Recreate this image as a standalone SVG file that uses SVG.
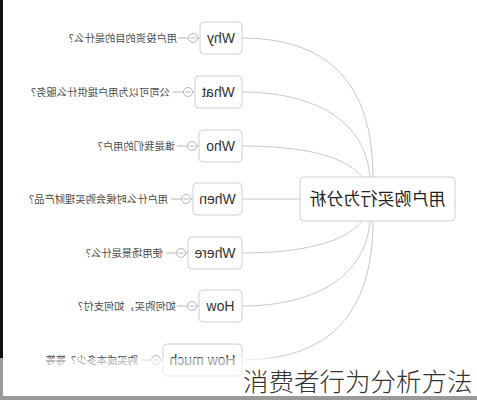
<svg xmlns="http://www.w3.org/2000/svg" width="477" height="400" viewBox="0 0 477 400">
<style>
.box{fill:#fff;stroke:#cfcfcf;stroke-width:1}
.conn{fill:none;stroke:#c9c9c9;stroke-width:1}
.lead{stroke:#b5b5b5;stroke-width:1}
.btn{fill:#fff;stroke:#b5b5b5;stroke-width:1}
.nt{font-family:"Liberation Sans",Arial,sans-serif;font-size:14px;fill:#333;text-anchor:middle}
.lb{font-family:"Noto Sans CJK SC","Noto Sans",sans-serif;font-size:10.3px;fill:#4a4a4a}
.ct{font-family:"Noto Sans CJK SC","Noto Sans",sans-serif;font-size:17px;fill:#222;text-anchor:middle}
</style>
<rect width="477" height="400" fill="#fff"/>
<g id="connectors">
<path class="conn" d="M242,38 Q373,38 373,177"/>
<path class="conn" d="M242,92 C305,92 365,115 370,177"/>
<path class="conn" d="M242,146 C300,146 345,155 362,177"/>
<path class="conn" d="M242,199 L300,199"/>
<path class="conn" d="M242,253 C300,253 345,243 362,221"/>
<path class="conn" d="M242,306 C305,306 365,283 370,221"/>
<path class="conn" d="M242,360 Q373,360 373,221"/>
</g>
<g id="center">
<rect class="box" x="300" y="177" width="155" height="44" rx="4"/>
<text class="ct" transform="scale(-1,1)" x="-377.5" y="205">用户购买行为分析</text>
</g>
<g id="why">
<line class="lead" x1="178" y1="38" x2="200" y2="38"/>
<circle class="btn" cx="193" cy="38" r="4.5"/><line class="lead" x1="190.5" y1="38" x2="195.5" y2="38"/>
<rect class="box" x="200" y="22" width="42" height="32" rx="4"/>
<text class="nt" transform="scale(-1,1)" x="-221" y="43">Why</text>
<text class="lb" transform="scale(-1,1)" x="-177" y="41.5">用户投资的目的是什么？</text>
</g>
<g id="what">
<line class="lead" x1="173" y1="92" x2="195" y2="92"/>
<circle class="btn" cx="188" cy="92" r="4.5"/><line class="lead" x1="185.5" y1="92" x2="190.5" y2="92"/>
<rect class="box" x="195" y="76" width="47" height="32" rx="4"/>
<text class="nt" transform="scale(-1,1)" x="-218.5" y="97">What</text>
<text class="lb" transform="scale(-1,1)" x="-170" y="95.5">公司可以为用户提供什么服务？</text>
</g>
<g id="who">
<line class="lead" x1="177" y1="146" x2="199" y2="146"/>
<circle class="btn" cx="192" cy="146" r="4.5"/><line class="lead" x1="189.5" y1="146" x2="194.5" y2="146"/>
<rect class="box" x="199" y="130" width="43" height="32" rx="4"/>
<text class="nt" transform="scale(-1,1)" x="-220.5" y="151">Who</text>
<text class="lb" transform="scale(-1,1)" x="-175" y="149.5">谁是我们的用户？</text>
</g>
<g id="when">
<line class="lead" x1="171" y1="199" x2="193" y2="199"/>
<circle class="btn" cx="186" cy="199" r="4.5"/><line class="lead" x1="183.5" y1="199" x2="188.5" y2="199"/>
<rect class="box" x="193" y="183" width="49" height="32" rx="4"/>
<text class="nt" transform="scale(-1,1)" x="-217.5" y="204">When</text>
<text class="lb" transform="scale(-1,1)" x="-168" y="202.5">用户什么时候会购买理财产品？</text>
</g>
<g id="where">
<line class="lead" x1="166" y1="253" x2="188" y2="253"/>
<circle class="btn" cx="181" cy="253" r="4.5"/><line class="lead" x1="178.5" y1="253" x2="183.5" y2="253"/>
<rect class="box" x="188" y="237" width="54" height="32" rx="4"/>
<text class="nt" transform="scale(-1,1)" x="-215" y="258">Where</text>
<text class="lb" transform="scale(-1,1)" x="-163" y="256.5">使用场景是什么？</text>
</g>
<g id="how">
<line class="lead" x1="177" y1="306" x2="199" y2="306"/>
<circle class="btn" cx="192" cy="306" r="4.5"/><line class="lead" x1="189.5" y1="306" x2="194.5" y2="306"/>
<rect class="box" x="199" y="290" width="43" height="32" rx="4"/>
<text class="nt" transform="scale(-1,1)" x="-220.5" y="311">How</text>
<text class="lb" transform="scale(-1,1)" x="-176" y="309.5">如何购买，如何支付？</text>
</g>
<g id="howmuch">
<line class="lead" x1="141" y1="360" x2="163" y2="360"/>
<circle class="btn" cx="156" cy="360" r="4.5"/><line class="lead" x1="153.5" y1="360" x2="158.5" y2="360"/>
<rect class="box" x="163" y="344" width="79" height="32" rx="4"/>
<text class="nt" transform="scale(-1,1)" x="-202.5" y="365">How much</text>
<text class="lb" transform="scale(-1,1)" x="-138" y="363.5">购买成本多少？等等</text>
</g>
<g id="frame">
<rect x="0" y="0" width="3" height="358" fill="#111"/>
<rect x="0" y="358" width="477" height="42" fill="#fff" fill-opacity="0.55"/>
<rect x="0" y="358" width="3" height="42" fill="#9a9a9a"/>
<rect x="0" y="396" width="477" height="4" fill="#9a9a9a"/>
<text x="243" y="391" font-family="'Noto Sans CJK SC','Noto Sans',sans-serif" font-weight="300" font-size="25.5" fill="#333">消费者行为分析方法</text>
</g>
</svg>
